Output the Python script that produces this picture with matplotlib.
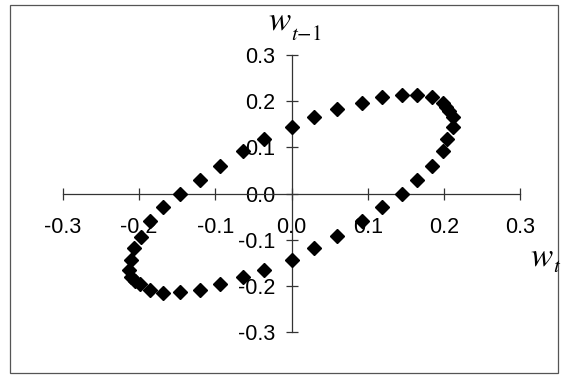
import matplotlib
matplotlib.use("Agg")
import matplotlib.pyplot as plt
from matplotlib.patches import Rectangle

# Data points (w_t, w_{t-1})
w_t = [-0.146, -0.120, -0.094, -0.064, -0.036, 0.000, 0.030, 0.060, 0.092, 0.118,
       0.145, 0.164, 0.184, 0.198, 0.203, 0.207, 0.211, 0.211, 0.204, 0.198,
       0.184, 0.164, 0.145, 0.118, 0.092, 0.060, 0.030, 0.000, -0.036, -0.064,
       -0.094, -0.120, -0.146, -0.168, -0.186, -0.199, -0.205, -0.211, -0.213, -0.211,
       -0.207, -0.198, -0.186, -0.168]
w_t1 = [0.000, 0.030, 0.060, 0.091, 0.117, 0.144, 0.165, 0.182, 0.196, 0.208,
        0.213, 0.213, 0.208, 0.196, 0.187, 0.178, 0.165, 0.144, 0.117, 0.091,
        0.060, 0.030, 0.000, -0.030, -0.059, -0.092, -0.117, -0.145, -0.166, -0.181,
        -0.197, -0.210, -0.214, -0.216, -0.210, -0.197, -0.190, -0.181, -0.166, -0.145,
        -0.117, -0.094, -0.059, -0.030]
ticks = [-0.3, -0.2, -0.1, 0.0, 0.1, 0.2, 0.3]
tick_labels = ["-0.3", "-0.2", "-0.1", "0.0", "0.1", "0.2", "0.3"]

plt.rcParams["mathtext.fontset"] = "stix"

W, H = 562, 383
fig = plt.figure(figsize=(W / 100, H / 100), dpi=100)
fig.patches.append(Rectangle((10 / W, 1 - 373 / H), 548 / W, 368 / H, transform=fig.transFigure,
                             fill=False, edgecolor="#555555", linewidth=0.9))

ax = fig.add_axes([62.7 / W, 1 - 332 / H, (520.4 - 62.7) / W, (332 - 55) / H])
ax.set_xlim(-0.3, 0.3)
ax.set_ylim(-0.3, 0.3)
ax.patch.set_visible(False)

for s in ["top", "right"]:
    ax.spines[s].set_visible(False)
ax.spines["left"].set_position(("data", 0))
ax.spines["bottom"].set_position(("data", 0))
for s in ["left", "bottom"]:
    ax.spines[s].set_color("#333333")
    ax.spines[s].set_linewidth(0.9)

font = "Liberation Sans"
ax.set_xticks(ticks)
ax.set_xticklabels(tick_labels, family=font, fontsize=15.5)
ax.set_yticks(ticks)
ax.set_yticklabels(tick_labels, family=font, fontsize=15.5)
ax.tick_params(axis="x", direction="inout", length=8, width=0.9, color="#333333", pad=13)
ax.tick_params(axis="y", direction="inout", length=8, width=0.9, color="#333333", pad=8)
for t in ax.get_xticklines() + ax.get_yticklines():
    t.set_clip_on(False)

ax.plot(w_t, w_t1, linestyle="none", marker="D", markersize=7, color="black", clip_on=False, zorder=3)

# axis labels: w_{t-1} (vertical axis) and w_t (horizontal axis)
fig.text(268 / W, 1 - 30 / H, r"$w$", fontsize=24, ha="left", va="baseline")
fig.text(291 / W, 1 - 40 / H, r"$t{-}1$", fontsize=15, ha="left", va="baseline")
fig.text(530 / W, 1 - 265 / H, r"$w$", fontsize=24, ha="left", va="baseline")
fig.text(553 / W, 1 - 272 / H, r"$t$", fontsize=15, ha="left", va="baseline")

fig.savefig("out.png", dpi=100)
